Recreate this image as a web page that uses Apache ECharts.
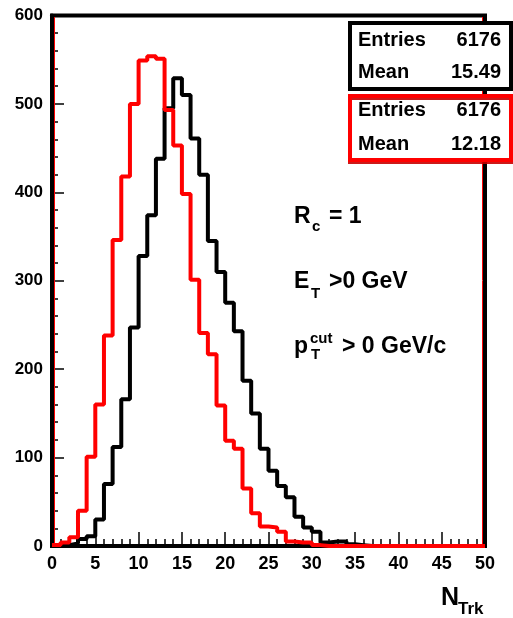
<!DOCTYPE html>
<html>
<head>
<meta charset="utf-8">
<script src="https://cdn.jsdelivr.net/npm/echarts@6/dist/echarts.min.js"></script>
<style>
html,body{margin:0;padding:0;background:#fff;}
#chart{width:513px;height:618px;}
</style>
</head>
<body>
<div id="chart"></div>
<script>
// Bin lower edges 0..49, bin width 1
var binEdges = [];
for (var i = 0; i <= 50; i++) binEdges.push(i);

var blackCounts = [0,1,3,8,11,30,70,112,166,247,328,374,438,495,529,510,461,420,345,310,
                   275,243,187,150,110,85,68,55,33,21,16,4,5,5,2,1,0,0,0,0,
                   0,0,0,0,0,0,0,0,0,0];
var redCounts = [1,4,10,40,101,160,238,346,418,500,549,554,551,493,453,398,301,241,217,159,
                 119,110,65,37,22,21,16,5,4,4,1,0,0,0,0,0,0,0,0,0,
                 0,0,0,0,0,0,0,0,0,0];

var xTicks = [0,5,10,15,20,25,30,35,40,45,50];
var yTicks = [0,100,200,300,400,500,600];

var statBlack = {entries: '6176', mean: '15.49'};
var statRed = {entries: '6176', mean: '12.18'};

function stepData(counts) {
  var d = [];
  for (var i = 0; i < counts.length; i++) d.push([binEdges[i], counts[i]]);
  d.push([binEdges[counts.length], counts[counts.length - 1]]);
  return d;
}

var FONT = '"Liberation Sans", Arial, Helvetica, sans-serif';

function txt(x, y, s, size, opts) {
  opts = opts || {};
  return {
    type: 'text', x: x, y: y, z: 100,
    style: {
      text: s, fill: opts.fill || '#000',
      font: 'bold ' + size + 'px ' + FONT,
      textAlign: opts.align || 'left',
      textVerticalAlign: opts.valign || 'middle'
    }
  };
}

var chart = echarts.init(document.getElementById('chart'));

var graphics = [
  // stat box black
  {type: 'rect', shape: {x: 350, y: 23, width: 161, height: 66}, z: 90,
   style: {fill: '#fff', stroke: '#000', lineWidth: 4}},
  txt(358, 40, 'Entries', 20),
  txt(501, 40, statBlack.entries, 20, {align: 'right'}),
  txt(358, 72, 'Mean', 20),
  txt(501, 72, statBlack.mean, 20, {align: 'right'}),
  // stat box red
  {type: 'rect', shape: {x: 350, y: 96, width: 161, height: 64}, z: 90,
   style: {fill: '#fff', stroke: '#ff0000', lineWidth: 4, shadowColor: 'rgba(200,0,0,0.9)', shadowOffsetY: 2, shadowOffsetX: 0}},
  txt(358, 110, 'Entries', 20),
  txt(501, 110, statRed.entries, 20, {align: 'right'}),
  txt(358, 144, 'Mean', 20),
  txt(501, 144, statRed.mean, 20, {align: 'right'}),
  // labels
  txt(294, 217, 'R', 23),
  txt(312, 227, 'c', 15),
  txt(329, 217, '= 1', 23),
  txt(294, 282, 'E', 23),
  txt(311, 294, 'T', 15),
  txt(329, 282, '>0 GeV', 23),
  txt(294, 347, 'p', 23),
  txt(310, 339, 'cut', 15),
  txt(311, 355, 'T', 15),
  txt(342, 347, '> 0 GeV/c', 23),
  // axis title
  txt(441, 598, 'N', 25),
  txt(458, 609, 'Trk', 17),
  // thin red lines inside the frame edges (as in reference)
  {type: 'line', shape: {x1: 54.5, y1: 17, x2: 54.5, y2: 544}, z: 50,
   style: {stroke: '#ff0000', lineWidth: 1}},
  {type: 'line', shape: {x1: 482.5, y1: 17, x2: 482.5, y2: 544}, z: 50,
   style: {stroke: '#ff0000', lineWidth: 1}}
];

var tickStyle = {color: '#000', width: 1.5};

chart.setOption({
  animation: false,
  backgroundColor: '#fff',
  grid: {left: 52, top: 15.5, right: 28, bottom: 72, show: true,
         borderColor: '#000', borderWidth: 4, backgroundColor: 'transparent'},
  xAxis: {
    type: 'value', min: xTicks[0], max: xTicks[xTicks.length - 1], interval: 5,
    axisLine: {show: true, onZero: false, lineStyle: {color: '#000', width: 4}},
    axisTick: {show: true, inside: true, length: 14, lineStyle: tickStyle},
    minorTick: {show: true, splitNumber: 5, length: 7, lineStyle: tickStyle},
    splitLine: {show: false},
    axisLabel: {margin: 9, color: '#000', fontSize: 18, fontWeight: 'bold', fontFamily: FONT,
      formatter: function (v) { return xTicks.indexOf(v) >= 0 ? String(v) : ''; }}
  },
  yAxis: {
    type: 'value', min: yTicks[0], max: yTicks[yTicks.length - 1], interval: 100,
    axisLine: {show: true, onZero: false, lineStyle: {color: '#000', width: 4}},
    axisTick: {show: true, inside: true, length: 12, lineStyle: tickStyle},
    minorTick: {show: true, splitNumber: 5, length: 6, lineStyle: tickStyle},
    splitLine: {show: false},
    axisLabel: {margin: 9, color: '#000', fontSize: 17, fontWeight: 'bold', fontFamily: FONT,
      formatter: function (v) { return yTicks.indexOf(v) >= 0 ? String(v) : ''; }}
  },
  series: [
    {type: 'line', step: 'end', data: stepData(blackCounts), showSymbol: false,
     lineStyle: {color: '#000', width: 4}, itemStyle: {color: '#000'}, z: 3, clip: false},
    {type: 'line', step: 'end', data: stepData(redCounts), showSymbol: false,
     lineStyle: {color: '#ff0000', width: 4}, itemStyle: {color: '#ff0000'}, z: 4, clip: false}
  ],
  graphic: graphics
});
</script>
</body>
</html>
